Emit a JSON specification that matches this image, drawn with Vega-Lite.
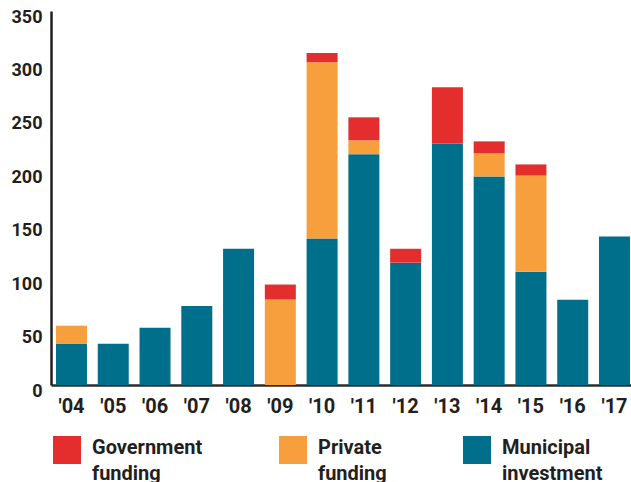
{
  "$schema": "https://vega.github.io/schema/vega-lite/v6.json",
  "autosize": {"type": "none"},
  "padding": {"left": 51, "top": 11, "right": 0, "bottom": 97},
  "width": 580,
  "height": 374,
  "background": "white",
  "data": {
    "values": [
      {"year": "'04", "source": "Municipal investment", "value": 38.5},
      {"year": "'04", "source": "Private funding", "value": 17},
      {"year": "'05", "source": "Municipal investment", "value": 38.5},
      {"year": "'06", "source": "Municipal investment", "value": 53.5},
      {"year": "'07", "source": "Municipal investment", "value": 74},
      {"year": "'08", "source": "Municipal investment", "value": 127.6},
      {"year": "'09", "source": "Private funding", "value": 80},
      {"year": "'09", "source": "Government funding", "value": 14},
      {"year": "'10", "source": "Municipal investment", "value": 137},
      {"year": "'10", "source": "Private funding", "value": 165},
      {"year": "'10", "source": "Government funding", "value": 8.6},
      {"year": "'11", "source": "Municipal investment", "value": 216},
      {"year": "'11", "source": "Private funding", "value": 13},
      {"year": "'11", "source": "Government funding", "value": 21.5},
      {"year": "'12", "source": "Municipal investment", "value": 114.5},
      {"year": "'12", "source": "Government funding", "value": 13},
      {"year": "'13", "source": "Municipal investment", "value": 226},
      {"year": "'13", "source": "Government funding", "value": 52.7},
      {"year": "'14", "source": "Municipal investment", "value": 195.2},
      {"year": "'14", "source": "Private funding", "value": 21.6},
      {"year": "'14", "source": "Government funding", "value": 11.2},
      {"year": "'15", "source": "Municipal investment", "value": 106},
      {"year": "'15", "source": "Private funding", "value": 90},
      {"year": "'15", "source": "Government funding", "value": 10.4},
      {"year": "'16", "source": "Municipal investment", "value": 79.8},
      {"year": "'17", "source": "Municipal investment", "value": 138.9}
    ]
  },
  "transform": [
    {"calculate": "indexof(['Municipal investment','Private funding','Government funding'], datum.source)", "as": "stackOrder"}
  ],
  "mark": {"type": "bar"},
  "encoding": {
    "x": {
      "field": "year",
      "type": "ordinal",
      "sort": null,
      "scale": {"paddingInner": 0.258, "paddingOuter": 0.072, "align": 0.83},
      "axis": {
        "title": null,
        "labelAngle": 0,
        "ticks": false,
        "labelFont": "Roboto",
        "labelFontWeight": "bold",
        "labelFontSize": 20,
        "labelColor": "#231f20",
        "labelPadding": 11,
        "domainColor": "#2b2b2b",
        "domainWidth": 2.5
      }
    },
    "y": {
      "field": "value",
      "type": "quantitative",
      "stack": "zero",
      "scale": {"domain": [0, 350], "nice": false},
      "axis": {
        "title": null,
        "grid": false,
        "ticks": false,
        "values": [0, 50, 100, 150, 200, 250, 300, 350],
        "labelFont": "Roboto",
        "labelFontWeight": "bold",
        "labelFontSize": 18,
        "labelColor": "#231f20",
        "labelPadding": 9,
        "labelOffset": 6,
        "domainColor": "#231f20",
        "domainWidth": 2.5
      }
    },
    "color": {
      "field": "source",
      "type": "nominal",
      "scale": {
        "domain": ["Government funding", "Private funding", "Municipal investment"],
        "range": ["#e32e2d", "#f79f3c", "#006f8c"]
      },
      "legend": {
        "title": null,
        "orient": "none",
        "legendX": 2,
        "legendY": 425,
        "direction": "horizontal",
        "columns": 3,
        "gridAlign": "each",
        "columnPadding": 76,
        "symbolType": "square",
        "symbolSize": 784,
        "symbolStrokeWidth": 0,
        "symbolOpacity": 1,
        "labelFont": "Roboto",
        "labelFontWeight": "bold",
        "labelFontSize": 20,
        "labelColor": "#231f20",
        "labelOffset": 11,
        "labelLimit": 300,
        "labelBaseline": "alphabetic",
        "labelExpr": "split(datum.label, ' ')",
        "encode": {
          "labels": {
            "update": {
              "lineHeight": {"value": 26},
              "dy": {"value": 4}
            }
          }
        }
      }
    },
    "order": {"field": "stackOrder", "type": "quantitative", "sort": "ascending"}
  },
  "config": {"view": {"stroke": null}}
}
